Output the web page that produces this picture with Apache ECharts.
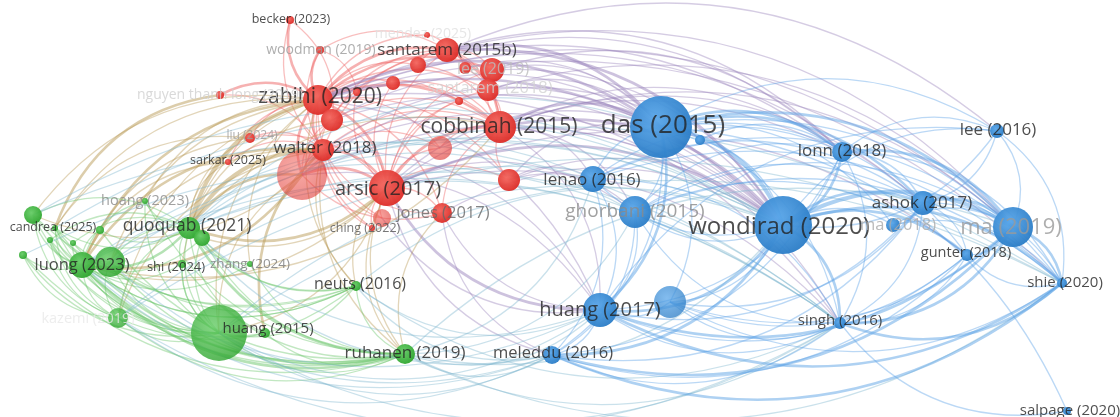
<!DOCTYPE html>
<html><head><meta charset="utf-8">
<script src="https://cdn.jsdelivr.net/npm/echarts@6/dist/echarts.min.js"></script>
<style>html,body{margin:0;padding:0;background:#fff}#c{width:1120px;height:417px}</style>
</head><body><div id="c"></div>
<script>
// ---- data (map coordinates) ----
const nodeKeys = ['zab','san15b','cob','arsic','walter','pinkbig','becker','wood','nguyen','hern','lee19','san18','jones','ching','liu','sarkar','r1','r2','r3','r4','r5','r6','r7','r8','r10',
 'quo','g2','luong','g3','cand','g4','g5','g6','g7','g8','hoang','shi','zhang','neuts','kaz','h15','h15s','ruh',
 'das','b1','lenao','ghor','wond','lonn','lee16','ashok','ma18','ma19','gunter','shie','singh','h17','b2','mel','salp'];
const nodeLabels = ['zabihi (2020)','santarem (2015b)','cobbinah (2015)','arsic (2017)','walter (2018)','','becker (2023)','woodman (2019)','nguyen thanh long (2019)','mendez (2025)','lee (2019)','santarem (2018)','jones (2017)','ching (2022)','liu (2024)','sarkar (2025)','','','','','','','','','',
 'quoquab (2021)','','luong (2023)','','candrea (2025)','','','','','','hoang (2023)','shi (2024)','zhang (2024)','neuts (2016)','kazemi (2019)','','huang (2015)','ruhanen (2019)',
 'das (2015)','','lenao (2016)','ghorbani (2015)','wondirad (2020)','lonn (2018)','lee (2016)','ashok (2017)','ma (2018)','ma (2019)','gunter (2018)','shie (2020)','singh (2016)','huang (2017)','','meleddu (2016)','salpage (2020)'];
const nodeX = [318,447,500,387,323,302,290,320,220,427,492,488,442,372,250,228,332,418,393,465,440,509,382,459,357,
 189,202,82,110,55,33,23,50,73,100,145,182,250,356,118,219,265,405,
 661,700,593,635,783,842,997,923,893,1013,967,1062,840,600,670,552,1067];
const nodeY = [100,50,127,188,150,175,20,50,95,35,70,90,213,228,138,162,120,65,83,68,148,180,218,101,92,
 228,238,265,262,228,215,255,240,243,230,201,264,264,286,318,333,333,354,
 127,140,179,212,225,152,131,203,225,227,255,283,323,310,302,355,411];
const nodeWeight = [30,24,32,36,22,50,8,8,8,6,24,22,20,6,10,6,22,16,14,12,24,22,18,8,8,
 22,16,26,30,6,18,8,6,6,8,6,8,6,10,20,56,10,20,
 62,10,26,32,58,20,14,24,14,40,12,10,12,34,32,18,8];
const nodeCluster = ['r','r','r','r','r','r','r','r','r','r','r','r','r','r','r','r','r','r','r','r','r','r','r','r','r',
 'g','g','g','g','g','g','g','g','g','g','g','g','g','g','g','g','g','g',
 'b','b','b','b','b','b','b','b','b','b','b','b','b','b','b','b','b'];
const linkList = [
 // red
 'zab becker 2','zab wood 2','zab nguyen 2','zab san15b 2','zab cob 2','zab arsic 2','zab walter 2','zab pinkbig 2','zab r1 1','zab r2 1','zab r3 1','zab liu 1','zab sarkar 1','zab jones 1','zab ching 1','zab r10 1','wood san15b 1','wood r10 1','becker r1 1',
 'cob san15b 2','cob arsic 2','cob lee19 1','cob san18 1','cob r5 1','cob r6 1','cob walter 1','cob pinkbig 1','arsic walter 2','arsic pinkbig 2','arsic jones 1','arsic ching 1','arsic r7 1','arsic r6 1','arsic san15b 1','san15b lee19 1','san15b san18 1','san15b r2 1','san15b r4 1','san15b hern 1','walter pinkbig 1','walter liu 1','r3 cob 1','r8 arsic 1','r5 walter 1','jones pinkbig 1',
 'r1 cob 1','r1 arsic 1','r1 san15b 1','r2 cob 1','r3 arsic 1','r4 cob 1','lee19 zab 2','san18 zab 1','san18 arsic 1','lee19 arsic 1','r10 cob 1','r10 arsic 1','r6 zab 1','r5 zab 1','r5 arsic 1','jones cob 1','jones walter 1','ching walter 1','pinkbig san15b 1','pinkbig r1 1','walter r1 1','walter san15b 1','r7 zab 1','r7 walter 1','r8 zab 1','hern zab 1','becker walter 1','wood walter 1','nguyen walter 1','liu arsic 1','sarkar walter 1',
 // red-blue
 'zab das 2','zab wond 2','zab lonn 1','san15b das 2','san15b wond 2','san15b lonn 1','san15b lee16 1','cob das 2','cob wond 2','cob h17 1','cob ashok 1','cob lenao 1','arsic wond 2','arsic das 1','arsic h17 2','arsic ghor 1','zab h17 1','zab ma19 1','lee19 das 1','san18 wond 1','walter wond 1','jones wond 1','pinkbig das 1','r6 lenao 1','r6 ghor 1','arsic singh 1','cob ma19 1','zab shie 1','walter h17 1','jones mel 1','arsic mel 1','r4 das 1','r2 lonn 1','san18 ma19 1','pinkbig wond 1',
 'san18 das 1','lee19 wond 1','r1 das 1','r1 wond 1','walter das 1','jones h17 1','r6 wond 1','r6 das 1','r5 wond 1','cob lonn 1','cob ghor 1','arsic lonn 1','zab ashok 1','san15b ma19 1','cob singh 1','arsic gunter 1','zab singh 1','r7 h17 1','pinkbig h17 1','lee19 lonn 1',
 // red-green
 'zab quo 3','zab luong 2','walter quo 3','arsic quo 2','pinkbig luong 2','zab h15 1','walter ruh 1','sarkar quo 1','liu luong 1','nguyen cand 2','zab cand 1','arsic neuts 1','walter h15s 2','pinkbig quo 2','zab g3 1','arsic luong 1','cob quo 1','arsic ruh 1','zab g4 1','walter kaz 1','liu quo 1',
 'zab hoang 1','zab shi 1','zab zhang 1','walter luong 2','arsic h15 1','pinkbig h15 1','zab neuts 1','cob luong 1','r1 quo 1','walter g3 1','pinkbig g4 1','zab kaz 1','arsic g2 1','sarkar luong 1','liu cand 1','walter neuts 1','jones ruh 1','ching ruh 1',
 // green
 'quo luong 2','quo cand 1','quo g2 1','quo hoang 1','quo shi 1','quo zhang 1','quo neuts 1','quo ruh 2','quo h15 1','quo kaz 1','luong g3 2','luong cand 1','luong g4 1','luong g5 1','luong g6 1','luong g7 1','luong g8 1','luong h15 1','luong kaz 1','luong ruh 2','luong neuts 1','g3 h15 1','g4 quo 1','kaz h15 1','kaz ruh 1','h15 ruh 1','h15 neuts 1','h15s quo 1','ruh neuts 1','shi ruh 1','zhang ruh 1','cand kaz 1','g5 kaz 1','g4 h15 1','g3 ruh 1','g6 quo 1','g7 quo 1','g8 quo 1','cand ruh 1','g5 ruh 1','g4 neuts 1','g2 ruh 1','g2 luong 1','hoang luong 1','shi luong 1',
 'h15 g5 1','h15 g6 1','h15 cand 1','h15 hoang 1','h15 shi 1','g3 quo 1','g3 cand 1','g3 kaz 1','kaz g4 1','kaz g6 1','kaz neuts 1','ruh g4 1','ruh g6 1','ruh g7 1','ruh g8 1','ruh hoang 1','neuts luong 1','neuts cand 1','neuts g3 1','zhang luong 1','shi h15 1','h15s luong 1','h15s ruh 1','g2 h15 1','g2 neuts 1',
 // green-blue
 'ruh mel 1','ruh h17 1','ruh wond 1','quo wond 1','luong wond 1','h15 singh 1','h15 wond 1','neuts h17 1','quo das 1','kaz singh 1','g3 mel 1','ruh singh 1','luong shie 1','h15 mel 1','g4 wond 1','kaz mel 1','ruh shie 1','neuts wond 1','quo h17 1','g5 singh 1',
 'luong mel 1','luong singh 1','quo mel 1','quo singh 1','quo ghor 1','g3 wond 1','g3 singh 1','h15 h17 1','h15 shie 1','kaz wond 1','kaz shie 1','neuts mel 1','neuts singh 1','ruh ghor 1','ruh lenao 1','cand wond 1','g4 singh 1','ruh ma19 1','luong h17 1','quo lenao 1',
 // blue
 'das wond 3','das lonn 2','das lenao 1','das ghor 1','das h17 2','das ashok 2','das ma19 2','das gunter 1','das singh 1','das shie 1','das lee16 1','das b1 1','wond lonn 2','wond ashok 2','wond ma18 1','wond ma19 3','wond gunter 2','wond shie 2','wond singh 2','wond h17 2','wond mel 2','wond ghor 1','wond lenao 1','wond b2 1','lonn ashok 1','lonn ma19 2','lonn shie 1','lonn singh 1','lonn h17 1','ashok ma19 2','ashok gunter 1','ashok shie 1','ma19 shie 2','ma19 gunter 1','ma19 singh 2','ma19 lee16 1','gunter shie 1','singh shie 2','singh h17 1','h17 mel 1','h17 ghor 1','h17 shie 2','h17 ma19 2','h17 b2 1','mel singh 1','mel shie 2','mel lenao 1','ghor lonn 1','singh salp 1','lee16 wond 1','b2 shie 1','b2 das 1','mel ma19 2','h17 gunter 1','lenao h17 1','lee16 lonn 1','lee16 ashok 1','ghor ma19 1','lenao ma19 1','mel gunter 1','b2 ma19 1','ashok singh 1','das mel 1',
 'wond lee16 1','ghor singh 1','ghor shie 1','lenao singh 1','lenao shie 1','b2 singh 1','b2 gunter 1','b2 ashok 1','h17 ashok 1','mel ashok 1','mel lonn 1','mel ghor 1','das salp 1','ma18 ma19 1','ma18 ashok 1','ma18 shie 1','ma18 das 1','gunter singh 1','lee16 shie 1','b1 wond 1','b1 lonn 1','ghor ashok 1','ghor gunter 1','lenao lonn 1','lenao ashok 1','h17 lee16 1'
];

// ---- styles ----
const labelStyle = {
 zab:[21,'#222',2,-3], san15b:[17,'#222',0,0], cob:[21,'#222',-1,0], arsic:[20,'#222',1,1], walter:[17,'#222',2,-2],
 becker:[12.5,'#222',1,-1], wood:[14,'#9a9a9a',1,0], nguyen:[14,'#d0d0d0',0,0], hern:[14,'#e0e0e0',-4,-1],
 lee19:[16,'#bdbdbd',1,-1], san18:[16.5,'#d2d2d2',2,-2], jones:[16.5,'#666',1,0], ching:[12.5,'#555',-7,0],
 liu:[12,'#9a9a9a',2,-2], sarkar:[12.5,'#222',0,-2],
 quo:[17.5,'#222',-2,-2], luong:[16.5,'#222',0,0], cand:[12.5,'#222',-2,-1], hoang:[14.5,'#8a8a8a',0,0], shi:[13,'#222',-6,3],
 zhang:[13.5,'#777',0,0], neuts:[16,'#222',4,-2], kaz:[14.5,'#e8e8e8',-30,1], h15s:[15,'#222',3,-4], ruh:[17,'#222',0,-1],
 das:[26,'#222',2,-1], lenao:[17,'#222',-1,1], ghor:[19,'#8a8a8a',0,0], wond:[24,'#222',-4,2], lonn:[17,'#222',0,-1],
 lee16:[17,'#222',1,-1], ashok:[17,'#222',-1,0], ma18:[16.5,'#aaaaaa',5,0], ma19:[22,'#9a9a9a',-2,1], gunter:[14.5,'#222',-1,-2],
 shie:[15,'#222',3,0], singh:[15,'#222',0,-2], h17:[20,'#222',0,0], mel:[16.5,'#222',1,-2], salp:[15,'#222',3,0]
};
const palette = {
 r:{light:'#f4675f', dark:'#dc2a25'},
 g:{light:'#66cc66', dark:'#2ea52e'},
 b:{light:'#5aa7ea', dark:'#2a7cc6'}
};
const fadedNodes = {pinkbig:0.55, r5:0.6, r7:0.6, h15:0.8, b2:0.75, kaz:0.8, g3:0.85};
const linkColors = {rr:'#ee6464', bb:'#5ea3e6', gg:'#6cc66c', br:'#9c86bd', rb:'#9c86bd', gr:'#b99c58', rg:'#b99c58', bg:'#80b8d0', gb:'#80b8d0'};

const idx = {}; nodeKeys.forEach((k,i)=>idx[k]=i);
const CX = 560, CY = 210, CURV = 0.3;

const nodes = nodeKeys.map((k,i)=>{
  const p = palette[nodeCluster[i]];
  return {
    name:k, value:[nodeX[i], nodeY[i]], symbolSize:nodeWeight[i],
    itemStyle:{
      color:{type:'radial', x:0.4, y:0.38, r:0.65, colorStops:[{offset:0,color:p.light},{offset:1,color:p.dark}]},
      opacity: fadedNodes[k] || 0.95
    }
  };
});

const links = linkList.map(s=>{
  const [a,b,w] = s.split(' ');
  const i = idx[a], j = idx[b];
  const x1=nodeX[i], y1=nodeY[i], x2=nodeX[j], y2=nodeY[j];
  const mx=(x1+x2)/2, my=(y1+y2)/2;
  const cpx = mx - (y1-y2)*CURV, cpy = my - (x2-x1)*CURV;
  const outward = Math.hypot(cpx-CX, (cpy-CY)*2) >= Math.hypot(mx-CX, (my-CY)*2);
  const wt = +w;
  return {
    source:a, target:b,
    lineStyle:{
      color: linkColors[nodeCluster[i]+nodeCluster[j]],
      width: wt===1 ? 1.3 : (wt===2 ? 2.6 : 4),
      opacity: wt===1 ? 0.42 : 0.5,
      curveness: outward ? CURV : -CURV
    }
  };
});

const labelData = [];
nodeKeys.forEach((k,i)=>{
  if(!nodeLabels[i]) return;
  const st = labelStyle[k] || [13,'#222',0,0];
  labelData.push({
    value:[nodeX[i], nodeY[i]],
    label:{show:true, formatter:nodeLabels[i], fontSize:st[0], color:st[1], offset:[st[2],st[3]]}
  });
});

const chart = echarts.init(document.getElementById('c'), null, {renderer:'canvas'});
chart.setOption({
  backgroundColor:'#ffffff',
  animation:false,
  grid:{left:0,right:0,top:0,bottom:0},
  xAxis:{type:'value', min:0, max:1120, show:false},
  yAxis:{type:'value', min:0, max:417, inverse:true, show:false},
  series:[
    {
      type:'graph', coordinateSystem:'cartesian2d', layout:'none',
      data:nodes, links:links, silent:true, z:2,
      label:{show:false},
      lineStyle:{curveness:CURV}
    },
    {
      type:'scatter', coordinateSystem:'cartesian2d', symbolSize:0, silent:true, z:5,
      data:labelData,
      label:{show:true, position:'inside', fontFamily:'Open Sans', fontWeight:'normal'}
    }
  ]
});
</script></body></html>
